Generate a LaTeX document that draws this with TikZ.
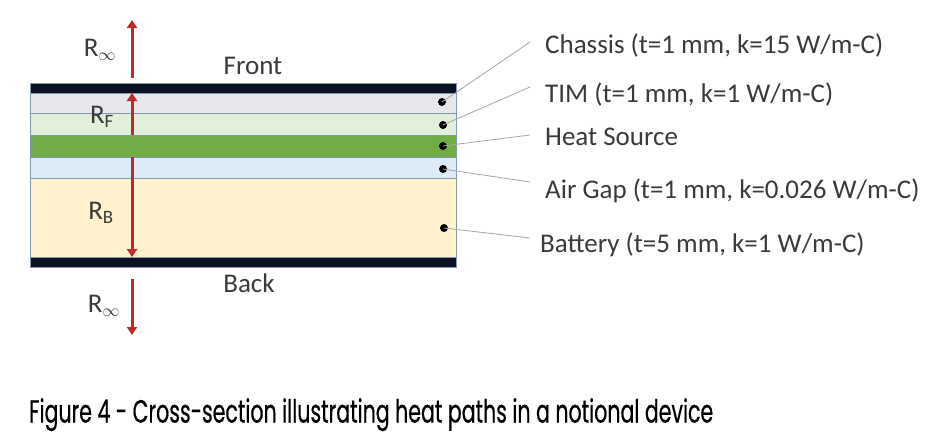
\documentclass[tikz,border=0pt]{standalone}
\usepackage{fontspec}
\setmainfont{Carlito}
\newfontfamily\capfont[FakeBold=0.6]{Poppins}
\usetikzlibrary{arrows.meta}
\definecolor{txt}{HTML}{3A3A3A}
\definecolor{barc}{HTML}{0B1122}
\definecolor{edgec}{HTML}{8497B0}
\definecolor{chasc}{HTML}{E7E8EB}
\definecolor{timc}{HTML}{E2EFDA}
\definecolor{hsc}{HTML}{70AD47}
\definecolor{airc}{HTML}{DDEBF7}
\definecolor{batc}{HTML}{FFF2CC}
\definecolor{arrc}{HTML}{C0282A}
\definecolor{leadc}{HTML}{A6A6A6}
\tikzset{
  layer/.style={draw=edgec, line width=0.8pt, minimum width=426pt, inner sep=0pt, outer sep=0pt},
  bar/.style={fill=barc, draw=edgec, line width=0.8pt, minimum width=426pt, minimum height=10pt, inner sep=0pt, outer sep=0pt},
  lbl/.style={text=txt, font=\fontsize{27}{32}\selectfont, inner sep=0pt},
  dotc/.style={circle, fill=black, minimum size=8pt, inner sep=0pt},
  lead/.style={draw=leadc, line width=0.8pt},
  heat/.style={draw=arrc, line width=3pt, -{Triangle[length=8pt,width=10pt]}},
}
\begin{document}
\begin{tikzpicture}[x=1pt,y=-1pt]
\useasboundingbox (0,0) rectangle (944,440);
% layers
\node[bar] (topbar) at (243,88) {};
\node[layer, fill=chasc, minimum height=20pt] (chassis) at (243,103) {};
\node[layer, fill=timc, minimum height=22pt] (tim) at (243,124) {};
\node[layer, fill=airc, minimum height=21pt] (air) at (243,167.5) {};
\node[layer, fill=batc, minimum height=79pt] (bat) at (243,217.5) {};
\node[bar] (botbar) at (243,262) {};
% arrows inside
\coordinate (aup) at (132,93);
\coordinate (adn) at (132,257);
\node[layer, fill=hsc, minimum height=22pt] (hs) at (243,146) {};
\draw[heat] (hs.north -| aup) -- (aup);
\draw[heat] (hs.south -| adn) -- (adn);
% outer arrows
\coordinate (t1) at (132,78); \coordinate (t2) at (132,20);
\coordinate (b1) at (132,279); \coordinate (b2) at (132,335);
\draw[heat] (t1) -- (t2);
\draw[heat] (b1) -- (b2);
% R labels
\node[lbl] (rinft) at (100,50) {R\textsubscript{$\infty$}};
\node[lbl] (rf) at (102,117) {R\textsubscript{F}};
\node[lbl] (rb) at (101,213) {R\textsubscript{B}};
\node[lbl] (rinfb) at (104,306) {R\textsubscript{$\infty$}};
\node[lbl] (front) at (253,66) {Front};
\node[lbl] (back) at (249,283) {Back};
% dots
\node[dotc] (d1) at (442,102) {};
\node[dotc] (d2) at (443,125) {};
\node[dotc] (d3) at (443,146) {};
\node[dotc] (d4) at (443,169) {};
\node[dotc] (d5) at (444,228) {};
% leader ends
\coordinate (e1) at (530,42);
\coordinate (e2) at (530,87);
\coordinate (e3) at (530,135);
\coordinate (e4) at (530,182);
\coordinate (e5) at (530,238);
\draw[lead] (d1.center) -- (e1);
\draw[lead] (d2.center) -- (e2);
\draw[lead] (d3.center) -- (e3);
\draw[lead] (d4.center) -- (e4);
\draw[lead] (d5.center) -- (e5);
\node[lbl, anchor=west] (l1) at (545,45) {Chassis (t=1 mm, k=15 W/m-C)};
\node[lbl, anchor=west] (l2) at (545,94) {TIM (t=1 mm, k=1 W/m-C)};
\node[lbl, anchor=west] (l3) at (545,137) {Heat Source};
\node[lbl, anchor=west] (l4) at (545,191) {Air Gap (t=1 mm, k=0.026 W/m-C)};
\node[lbl, anchor=west] (l5) at (540,245) {Battery (t=5 mm, k=1 W/m-C)};
% caption
\node[anchor=north west, inner sep=0pt, text=black] (cap) at (29,398)
  {\resizebox*{684pt}{33pt}{\capfont\fontsize{26}{30}\selectfont Figure 4 - Cross-section illustrating heat paths in a notional device}};
\end{tikzpicture}
\end{document}
